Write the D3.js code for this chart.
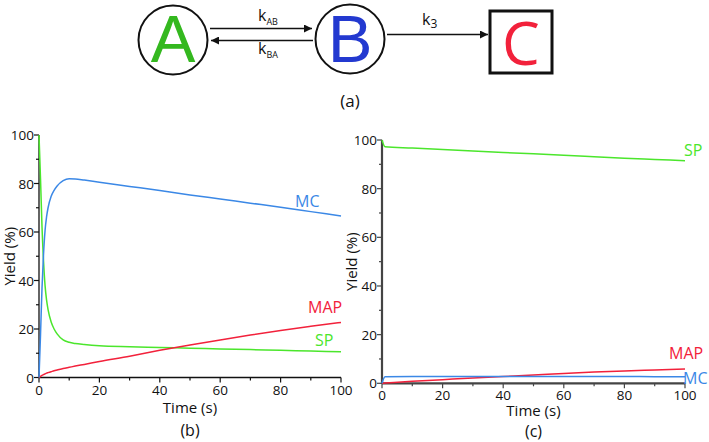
<!DOCTYPE html>
<html><head><meta charset="utf-8">
<script src="https://cdn.jsdelivr.net/npm/d3@7"></script>
<style>body{margin:0;background:#fff}svg{display:block}text{font-family:"Open Sans",sans-serif}</style>
</head><body>
<svg id="c" width="709" height="442"></svg>
<script>
// ---- data: panel (b) ----
const timeB = [0,0.5,1,1.5,2,2.5,3,4,5,6,8,10,12,15,20,30,40,50,60,70,80,90,100];
const spB   = [100,82,62,48,38,32,28,23,20,18,15.5,14.5,14,13.6,13.1,12.7,12.4,12.1,11.8,11.5,11.2,10.9,10.6];
const mcB   = [0,17.5,37,50.8,60.5,66.2,70,74.6,77.2,79,81.2,82,81.9,81.4,80.5,78.8,77.1,75.3,73.6,71.9,70.2,68.4,66.6];
const mapB  = [0,0.5,0.9,1.2,1.5,1.8,2.0,2.4,2.8,3.1,3.7,4.2,4.7,5.4,6.6,8.8,11.2,13.4,15.5,17.5,19.4,21.1,22.7];
// ---- data: panel (c) ----
const timeC = [0,1,10,20,30,40,50,60,70,80,90,100];
const spC   = [100,97.2,96.7,96.1,95.5,94.9,94.3,93.7,93.1,92.5,92.0,91.5];
const mcC   = [0,2.7,2.8,2.8,2.8,2.8,2.8,2.8,2.8,2.8,2.7,2.7];
const mapC  = [0,0.08,0.8,1.5,2.2,2.8,3.4,4.0,4.6,5.1,5.5,5.9];
const majorTicks = [0,20,40,60,80,100];
const minorTicks = [10,30,50,70,90];
const colors = {SP:"#4be62c", MC:"#3b88e6", MAP:"#f2213b"};

const svg = d3.select("#c");

// ---- scheme (a) ----
const g0 = svg.append("g");
function circ(cx, cy, letter, col){
  g0.append("circle").attr("cx",cx).attr("cy",cy).attr("r",34.5).attr("fill","none").attr("stroke","#111").attr("stroke-width",2);
  g0.append("text").attr("x",cx).attr("y",61.5).attr("text-anchor","middle").attr("font-size",67)
    .style("font-family","'Liberation Sans',Arial,sans-serif").attr("fill",col).text(letter);
}
circ(173,40,"A","#34b81f");
circ(350,39,"B","#2339d0");
g0.append("rect").attr("x",490).attr("y",11).attr("width",62).attr("height",62).attr("fill","none").attr("stroke","#111").attr("stroke-width",3);
g0.append("text").attr("x",521).attr("y",65).attr("text-anchor","middle").attr("font-size",60).attr("fill","#f2213b").text("C");
svg.append("defs").append("marker").attr("id","ah").attr("viewBox","0 0 10 10").attr("refX",10).attr("refY",5)
  .attr("markerWidth",10).attr("markerHeight",8).attr("markerUnits","userSpaceOnUse").attr("orient","auto")
  .append("path").attr("d","M0,0L10,5L0,10z").attr("fill","#111");
function arrow(x1,y1,x2,y2){
  g0.append("line").attr("x1",x1).attr("y1",y1).attr("x2",x2).attr("y2",y2).attr("stroke","#111").attr("stroke-width",1.4).attr("marker-end","url(#ah)");
}
arrow(210,28.5,312,28.5);
arrow(313,40.5,211,40.5);
arrow(387,34.5,488,34.5);
function klabel(x,y,sub){
  const t = g0.append("text").attr("x",x).attr("y",y).attr("font-size",16).attr("fill","#111");
  t.append("tspan").text("k");
  t.append("tspan").attr("font-size",sub.length>1?9:12).attr("dy",sub.length>1?4:3).text(sub);
}
klabel(258,21,"AB");
klabel(258,54,"BA");
klabel(422,25,"3");
svg.append("text").attr("x",350).attr("y",107).attr("text-anchor","middle").attr("font-size",17).attr("fill","#111").text("(a)");

// ---- plot panels ----
function panel(opt){
  const g = svg.append("g");
  const x = d3.scaleLinear().domain([0,100]).range(opt.xr);
  const y = d3.scaleLinear().domain([0,100]).range(opt.yr);
  const ac = opt.axisColor, aw = opt.axisWidth;
  g.append("line").attr("x1",x(0)).attr("x2",x(0)).attr("y1",y(0)).attr("y2",y(100)).attr("stroke",ac).attr("stroke-width",aw);
  g.append("line").attr("x1",x(0)).attr("x2",x(100)).attr("y1",y(0)).attr("y2",y(0)).attr("stroke",ac).attr("stroke-width",aw);
  majorTicks.forEach(v=>{
    g.append("line").attr("x1",x(0)-5).attr("x2",x(0)).attr("y1",y(v)).attr("y2",y(v)).attr("stroke",ac).attr("stroke-width",1.2);
    g.append("text").attr("x",x(0)-5).attr("y",y(v)+5).attr("text-anchor","end").attr("font-size",13.5).attr("fill","#111").text(v);
    g.append("line").attr("x1",x(v)).attr("x2",x(v)).attr("y1",y(0)).attr("y2",y(0)+5).attr("stroke",ac).attr("stroke-width",1.2);
    g.append("text").attr("x",x(v)).attr("y",y(0)+opt.xlabOff).attr("text-anchor","middle").attr("font-size",13.5).attr("fill","#111").text(v);
  });
  minorTicks.forEach(v=>{
    g.append("line").attr("x1",x(0)-3).attr("x2",x(0)).attr("y1",y(v)).attr("y2",y(v)).attr("stroke",ac).attr("stroke-width",1.2);
    g.append("line").attr("x1",x(v)).attr("x2",x(v)).attr("y1",y(0)).attr("y2",y(0)+3).attr("stroke",ac).attr("stroke-width",1.2);
  });
  g.append("text").attr("transform",`translate(${opt.ytx},${(y(0)+y(100))/2}) rotate(-90)`).attr("text-anchor","middle").attr("font-size",15).attr("fill","#111").text("Yield (%)");
  g.append("text").attr("x",(x(0)+x(100))/2).attr("y",opt.xty).attr("text-anchor","middle").attr("font-size",15).attr("fill","#111").text("Time (s)");
  g.append("text").attr("x",(x(0)+x(100))/2).attr("y",opt.caption[1]).attr("text-anchor","middle").attr("font-size",16).attr("fill","#111").text(opt.caption[0]);
  const line = d3.line().x(d=>x(d[0])).y(d=>y(d[1])).curve(d3.curveMonotoneX);
  opt.series.forEach(s=>{
    const pts = opt.time.map((t,i)=>[t,s.values[i]]);
    g.append("path").attr("d",line(pts)).attr("fill","none").attr("stroke",colors[s.name]).attr("stroke-width",1.5);
  });
  opt.labels.forEach(l=>{
    g.append("text").attr("x",l[1]).attr("y",l[2]).attr("font-size",16).attr("fill",colors[l[0]]).text(l[0]);
  });
}
panel({xr:[39,341], yr:[377.5,135], axisColor:"#111", axisWidth:1.3, xlabOff:17, ytx:15, xty:413, caption:["(b)",436],
  time:timeB, series:[{name:"SP",values:spB},{name:"MAP",values:mapB},{name:"MC",values:mcB}],
  labels:[["MC",295,207],["MAP",308,313],["SP",315,346]]});
panel({xr:[382,685], yr:[383.3,140], axisColor:"#444", axisWidth:2.2, xlabOff:17, ytx:357, xty:416, caption:["(c)",437],
  time:timeC, series:[{name:"SP",values:spC},{name:"MAP",values:mapC},{name:"MC",values:mcC}],
  labels:[["SP",684,156],["MAP",669,359],["MC",683,384]]});
</script>
</body></html>
